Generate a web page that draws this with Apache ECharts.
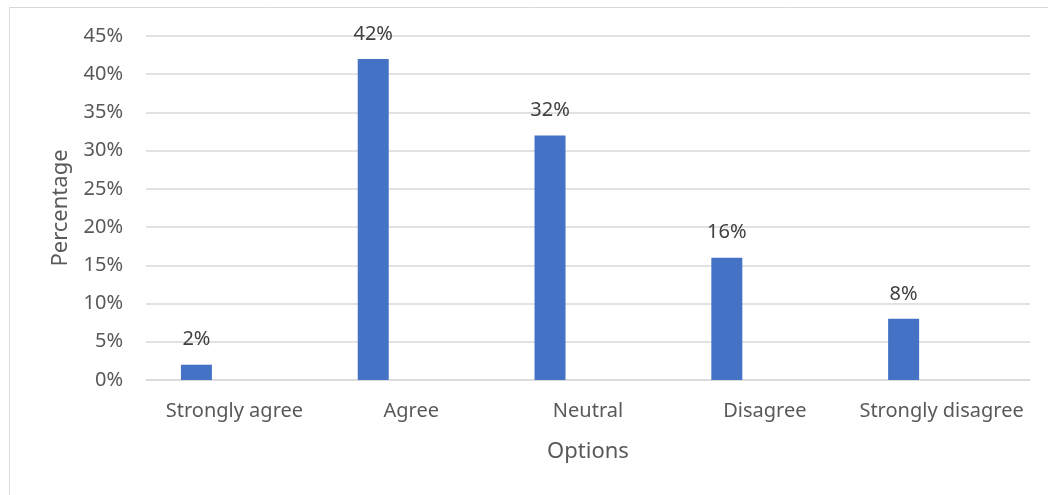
<!DOCTYPE html>
<html>
<head>
<meta charset="utf-8">
<script src="https://cdn.jsdelivr.net/npm/echarts@6/dist/echarts.min.js"></script>
<style>
  html, body { margin: 0; padding: 0; background: #fff; }
  #chart { width: 1048px; height: 495px; }
</style>
</head>
<body>
<div id="chart"></div>
<script>
// Survey responses by option (percent)
const categories = ['Strongly agree', 'Agree', 'Neutral', 'Disagree', 'Strongly disagree'];
const percentages = [2, 42, 32, 16, 8];
const yTicks = [0, 5, 10, 15, 20, 25, 30, 35, 40, 45];

const FONT = '"Noto Sans", "Open Sans", sans-serif';
const TEXT = '#595959';

const chart = echarts.init(document.getElementById('chart'), null, { renderer: 'canvas' });

chart.setOption({
  animation: false,
  backgroundColor: '#ffffff',
  textStyle: { fontFamily: FONT },
  graphic: [
    { type: 'line', shape: { x1: 9.5, y1: 7.5, x2: 1048, y2: 7.5 }, style: { stroke: '#d9d9d9', lineWidth: 1 } },
    { type: 'line', shape: { x1: 9.5, y1: 7.5, x2: 9.5, y2: 495 }, style: { stroke: '#d9d9d9', lineWidth: 1 } }
  ],
  grid: { left: 146, right: 18, top: 36, bottom: 115, containLabel: false },
  xAxis: {
    type: 'category',
    data: categories,
    name: 'Options',
    nameLocation: 'middle',
    nameGap: 61,
    nameTextStyle: { color: TEXT, fontSize: 22, fontFamily: FONT },
    axisLine: { show: true, lineStyle: { color: '#d9d9d9', width: 1.5 } },
    axisTick: { show: false },
    axisLabel: { color: TEXT, fontSize: 20, fontFamily: FONT, margin: 21, interval: 0 }
  },
  yAxis: {
    type: 'value',
    min: 0,
    max: yTicks[yTicks.length - 1],
    interval: 5,
    name: 'Percentage',
    nameLocation: 'middle',
    nameGap: 74,
    nameTextStyle: { color: TEXT, fontSize: 22, fontFamily: FONT },
    axisLine: { show: false },
    axisTick: { show: false },
    splitLine: { lineStyle: { color: '#d9d9d9', width: 1.5 } },
    axisLabel: { color: TEXT, fontSize: 20, fontFamily: FONT, margin: 23, formatter: v => v + '%' }
  },
  series: [
    {
      type: 'bar',
      data: percentages,
      barWidth: 31,
      barGap: '145%',
      itemStyle: { color: '#4472c4' },
      label: {
        show: true,
        position: 'top',
        distance: 15,
        color: '#404040',
        fontSize: 20,
        fontFamily: FONT,
        formatter: p => p.value + '%'
      }
    },
    {
      type: 'bar',
      data: categories.map(() => null),
      barWidth: 31,
      itemStyle: { color: '#ed7d31' }
    }
  ]
});
</script>
</body>
</html>
